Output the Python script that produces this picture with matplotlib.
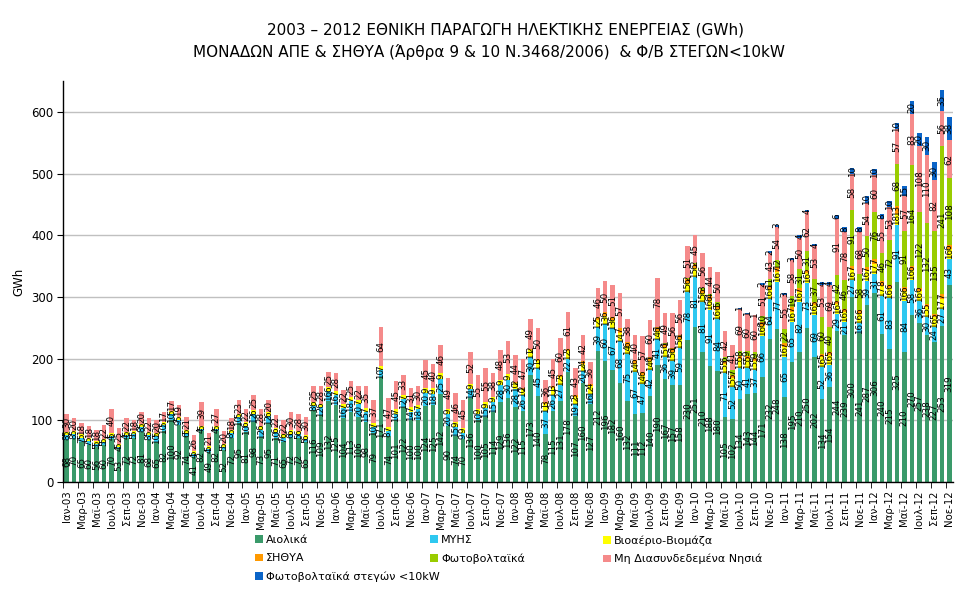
import matplotlib
matplotlib.use("Agg")
import matplotlib.pyplot as plt
from matplotlib.patches import Patch
import numpy as np

plt.rcParams['font.family'] = ['DejaVu Sans']

years = list(range(2003, 2013))
month_names = ['Ιαν', 'Φεβ', 'Μαρ', 'Απρ', 'Μαϊ', 'Ιουν', 'Ιουλ', 'Αυγ', 'Σεπ', 'Οκτ', 'Νοε', 'Δεκ']
categories = [f"{m}-{str(y)[2:]}" for y in years for m in month_names][:119]

wind = [
    68, 70, 65, 60, 56, 60, 70, 53, 72, 72, 81, 68,
    65, 82, 100, 92, 74, 41, 82, 49, 82, 52, 72, 95,
    81, 98, 73, 95, 71, 65, 72, 72, 65, 116, 109, 132,
    125, 104, 113, 106, 98, 79, 171, 74, 101, 122, 100, 100,
    124, 125, 142, 90, 74, 70, 136, 100, 105, 114, 129, 136,
    122, 115, 173, 140, 78, 115, 131, 178, 107, 160, 127, 212,
    196, 182, 160, 132, 111, 112, 140, 190, 167, 157, 158, 230,
    251, 210, 188, 180, 105, 102, 134, 143, 144, 171, 232, 248,
    138, 195, 210, 250, 202, 134, 154, 244, 239, 300, 241, 287,
    306, 240, 215, 325, 210, 270, 257, 238, 227, 253, 319,
]
myhs = [
    8, 8, 7, 7, 5, 5, 4, 4, 4, 5, 8, 8,
    10, 10, 10, 9, 6, 4, 4, 4, 4, 5, 8, 10,
    10, 12, 12, 12, 10, 7, 6, 5, 5, 8, 12, 16,
    16, 16, 18, 20, 15, 10, 10, 8, 10, 12, 14, 18,
    20, 18, 25, 20, 15, 9, 14, 10, 15, 15, 28, 30,
    28, 26, 30, 45, 37, 26, 27, 22, 19, 20, 16, 39,
    60, 67, 68, 75, 67, 47, 42, 41, 36, 39, 59, 78,
    81, 81, 91, 84, 71, 52, 50, 41, 37, 66, 64, 77,
    65, 65, 82, 73, 69, 52, 36, 29, 21, 27, 16, 39,
    31, 61, 83, 91, 84, 58, 36, 30, 24, 27, 43,
]
biogas = [
    5, 5, 5, 5, 5, 5, 5, 5, 5, 5, 5, 5,
    5, 5, 5, 5, 5, 5, 5, 5, 5, 5, 5, 5,
    6, 6, 6, 6, 6, 6, 6, 6, 6, 6, 6, 6,
    7, 7, 7, 7, 7, 7, 7, 7, 7, 7, 7, 7,
    9, 9, 9, 9, 9, 9, 9, 9, 9, 9, 9, 9,
    10, 10, 11, 11, 11, 11, 12, 12, 12, 12, 12, 12,
    13, 13, 14, 14, 14, 14, 14, 14, 15, 15, 15, 15,
    15, 15, 16, 16, 15, 15, 15, 15, 15, 16, 16, 16,
    16, 16, 16, 16, 16, 16, 16, 16, 16, 16, 16, 16,
    17, 17, 16, 18, 16, 16, 16, 15, 16, 17, 16,
]
sithya = [
    0, 0, 0, 0, 0, 0, 0, 0, 0, 0, 0, 0,
    0, 0, 0, 0, 0, 0, 0, 0, 0, 0, 0, 0,
    0, 0, 0, 0, 0, 0, 0, 0, 0, 0, 0, 0,
    0, 0, 0, 0, 0, 0, 0, 0, 0, 0, 0, 0,
    0, 0, 0, 0, 0, 0, 0, 0, 0, 0, 0, 0,
    2, 2, 2, 3, 3, 3, 3, 3, 3, 4, 4, 5,
    6, 6, 7, 6, 6, 6, 6, 6, 6, 6, 6, 6,
    6, 6, 6, 6, 5, 5, 5, 5, 5, 6, 6, 7,
    7, 7, 7, 5, 5, 5, 5, 5, 5, 7, 6, 7,
    7, 8, 6, 13, 6, 6, 6, 5, 5, 7, 6,
]
pv = [
    0, 0, 0, 0, 0, 0, 0, 0, 0, 0, 0, 0,
    0, 0, 0, 0, 0, 0, 0, 0, 0, 0, 0, 0,
    0, 0, 0, 0, 0, 0, 0, 0, 0, 0, 0, 0,
    0, 0, 0, 0, 0, 0, 0, 0, 0, 0, 0, 0,
    0, 0, 0, 0, 0, 0, 0, 0, 0, 0, 0, 0,
    0, 0, 0, 0, 0, 0, 0, 0, 0, 0, 0, 0,
    0, 0, 0, 0, 0, 0, 1, 1, 1, 1, 1, 2,
    2, 3, 4, 5, 6, 7, 8, 9, 9, 10, 11, 12,
    22, 19, 31, 31, 37, 60, 40, 42, 46, 91, 58, 50,
    76, 46, 72, 68, 91, 164, 122, 132, 135, 241, 108,
]
islands = [
    30, 20, 18, 18, 18, 22, 40, 25, 22, 18, 20, 22,
    20, 17, 17, 19, 21, 26, 39, 21, 27, 20, 18, 23,
    22, 25, 28, 20, 22, 22, 30, 28, 30, 25, 28, 25,
    28, 22, 25, 22, 35, 37, 64, 47, 45, 33, 31, 30,
    45, 40, 46, 49, 46, 45, 52, 55, 55, 38, 48, 53,
    44, 47, 49, 50, 36, 45, 60, 61, 43, 42, 36, 46,
    50, 51, 57, 38, 40, 57, 60, 78, 49, 56, 56, 51,
    45, 56, 44, 50, 42, 41, 69, 60, 60, 51, 43, 54,
    55, 58, 50, 62, 53, 53, 69, 91, 78, 58, 68, 54,
    60, 55, 53, 57, 57, 83, 108, 110, 82, 56, 62,
]
pv_roof = [
    0, 0, 0, 0, 0, 0, 0, 0, 0, 0, 0, 0,
    0, 0, 0, 0, 0, 0, 0, 0, 0, 0, 0, 0,
    0, 0, 0, 0, 0, 0, 0, 0, 0, 0, 0, 0,
    0, 0, 0, 0, 0, 0, 0, 0, 0, 0, 0, 0,
    0, 0, 0, 0, 0, 0, 0, 0, 0, 0, 0, 0,
    0, 0, 0, 0, 0, 0, 0, 0, 0, 0, 0, 0,
    0, 0, 0, 0, 0, 0, 0, 0, 0, 0, 0, 0,
    0, 0, 0, 0, 0, 0, 1, 1, 1, 2, 2, 3,
    3, 3, 4, 4, 4, 4, 4, 6, 8, 10, 8, 10,
    10, 8, 10, 10, 15, 20, 20, 30, 30, 35, 38,
]

series_names = ['Αιολικά', 'ΜΥΗΣ', 'Βιοαέριο-Βιομάζα', 'ΣΗΘΥΑ', 'Φωτοβολταϊκά',
                'Μη Διασυνδεδεμένα Νησιά', 'Φωτοβολταϊκά στεγών <10kW']
series_values = [wind, myhs, biogas, sithya, pv, islands, pv_roof]
series_colors = ['#3A9A6A', '#2EC8F0', '#FFFF00', '#FF9900', '#99CC00', '#F58A8A', '#0A64C8']

W, H = 977, 601
fig = plt.figure(figsize=(W / 100, H / 100), dpi=100)
ax = fig.add_axes([63 / W, 1 - 482 / H, (953 - 63) / W, (482 - 81) / H])

x = np.arange(len(categories))
bottom = np.zeros(len(categories))
handles = []
for name, vals, col in zip(series_names, series_values, series_colors):
    v = np.array(vals, dtype=float)
    ax.bar(x, v, bottom=bottom, width=0.6, color=col, linewidth=0, zorder=2)
    for xi, b, h in zip(x, bottom, v):
        if h > 0:
            ax.text(xi, b + h / 2, f"{int(h)}", rotation=90, ha='center', va='center',
                    fontsize=6.3, color='black', zorder=3)
    bottom += v
    handles.append(Patch(facecolor=col, edgecolor='none', label=name))

ax.set_xlim(-0.5, len(categories) - 0.5)
ax.set_ylim(0, 650)
ax.set_yticks(np.arange(0, 700, 100))
ax.yaxis.grid(True, color='#C0C0C0', linewidth=1, zorder=0)
ax.set_axisbelow(True)
for s in ['top', 'right']:
    ax.spines[s].set_visible(False)
for s in ['left', 'bottom']:
    ax.spines[s].set_color('black')
    ax.spines[s].set_linewidth(1)
ax.tick_params(axis='y', labelsize=8.5, length=4, direction='out', pad=3)

ax.set_xticks(x[::2])
ax.set_xticklabels(categories[::2], rotation=90, fontsize=7.3)
ax.tick_params(axis='x', which='major', length=0, pad=6)
ax.set_xticks(np.arange(-0.5, len(categories), 2), minor=True)
ax.tick_params(axis='x', which='minor', length=4, direction='out')

ax.set_ylabel('GWh', fontsize=8.5, labelpad=4)

fig.text(0.517, 1 - 30 / H, '2003 – 2012 ΕΘΝΙΚΗ ΠΑΡΑΓΩΓΗ ΗΛΕΚΤΙΚΗΣ ΕΝΕΡΓΕΙΑΣ (GWh)',
         ha='center', va='center', fontsize=11)
fig.text(0.501, 1 - 52 / H, 'ΜΟΝΑΔΩΝ ΑΠΕ & ΣΗΘΥΑ (Άρθρα 9 & 10 Ν.3468/2006)  & Φ/Β ΣΤΕΓΩΝ<10kW',
         ha='center', va='center', fontsize=11)

cols = [[0, 3, 6], [1, 4], [2, 5]]
col_x = [255, 430, 603]
for cx, idxs in zip(col_x, cols):
    fig.legend(handles=[handles[i] for i in idxs], loc='upper left',
               bbox_to_anchor=(cx / W, 1 - 535 / H), frameon=False,
               fontsize=8, handlelength=0.7, handleheight=0.7, handletextpad=0.3,
               labelspacing=0.75, borderpad=0, borderaxespad=0)

fig.savefig('out.png', dpi=100, facecolor='white')
